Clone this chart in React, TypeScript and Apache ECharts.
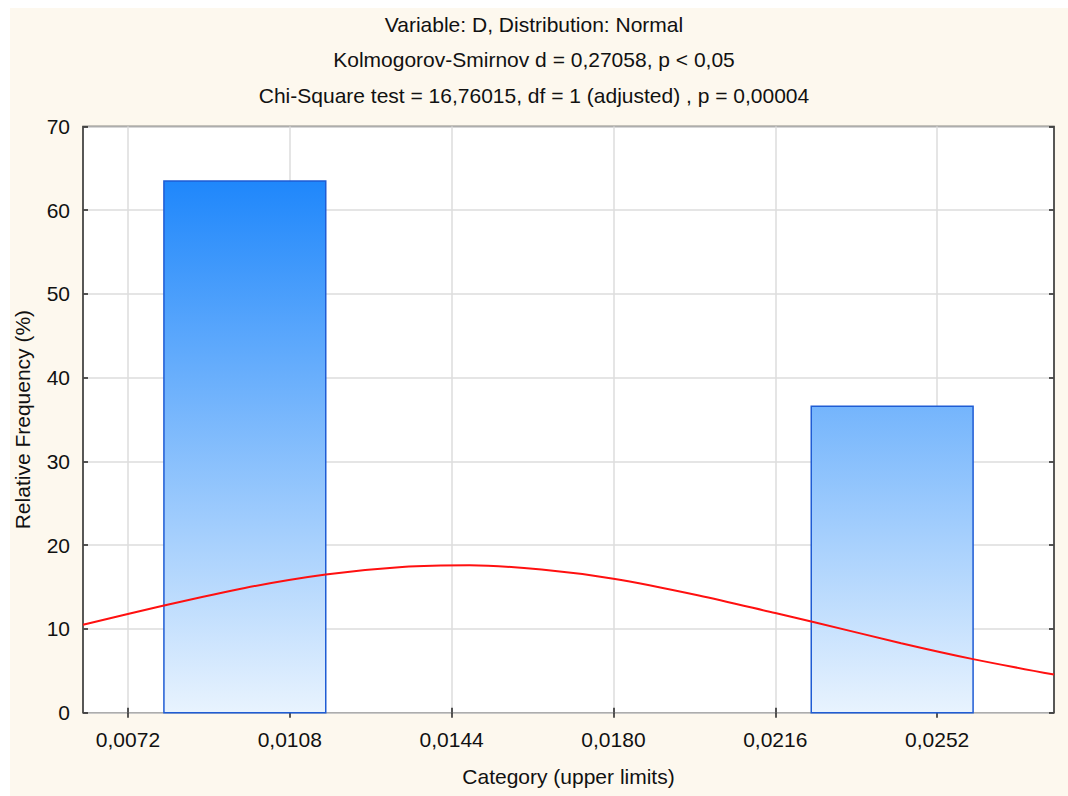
import React, { useEffect, useRef } from "react";
import * as echarts from "echarts";

// ---- data ----
const titleLines = [
  "Variable: D, Distribution: Normal",
  "Kolmogorov-Smirnov d = 0,27058, p < 0,05",
  "Chi-Square test = 16,76015, df = 1 (adjusted) , p = 0,00004",
];
const xAxisName = "Category (upper limits)";
const yAxisName = "Relative Frequency (%)";

const xTicks = [0.0072, 0.0108, 0.0144, 0.018, 0.0216, 0.0252];
const xTickLabels = ["0,0072", "0,0108", "0,0144", "0,0180", "0,0216", "0,0252"];
const xMin = 0.0062;
const xMax = 0.0278;

const binLower = [0.008, 0.0224];
const binUpper = [0.0116, 0.026];
const relFreq = [63.5, 36.6];

// expected normal curve
const curveX = [
  0.0062, 0.008, 0.0098, 0.0116, 0.0133, 0.0148, 0.0164, 0.018, 0.0199,
  0.0216, 0.0224, 0.0244, 0.026, 0.0278,
];
const curveY = [
  10.5, 12.8, 14.9, 16.5, 17.4, 17.6, 17.1, 16.0, 14.0, 11.9, 10.9, 8.3, 6.4,
  4.55,
];

const FONT = "'Liberation Sans', Arial, sans-serif";
const TEXT = "#111111";

export default function App() {
  const ref = useRef<HTMLDivElement>(null);

  useEffect(() => {
    document.body.style.margin = "0";
    document.body.style.overflow = "hidden";
    if (!ref.current) return;
    const chart = echarts.init(ref.current, null, { renderer: "svg" });

    const bins = binLower.map((lo, i) => [lo, binUpper[i], relFreq[i]]);
    const curve = curveX.map((x, i) => [x, curveY[i]]);
    const maxFreq = Math.max(...relFreq);

    const tickCommon = {
      show: true,
      inside: true,
      length: 5,
      lineStyle: { color: "#222", width: 1.5 },
    };

    chart.setOption({
      animation: false,
      backgroundColor: "#fdf8ee",
      textStyle: { fontFamily: FONT },
      grid: {
        left: 73,
        top: 118.5,
        right: 14,
        bottom: 83.3,
        containLabel: false,
        outerBoundsMode: "none",
        show: true,
        backgroundColor: "#ffffff",
        borderColor: "#222",
        borderWidth: 1.5,
      },
      graphic: titleLines.map((t, i) => ({
        type: "text",
        x: 524,
        y: 16 + i * 35.5,
        style: {
          text: t,
          fontSize: 21,
          fontFamily: FONT,
          fill: TEXT,
          align: "center",
          verticalAlign: "middle",
        },
      })),
      xAxis: [
        {
          type: "value",
          position: "bottom",
          min: xMin,
          max: xMax,
          name: xAxisName,
          nameLocation: "middle",
          nameGap: 53,
          nameTextStyle: { fontSize: 21, color: TEXT, fontFamily: FONT },
          axisLine: { show: false },
          axisTick: { ...tickCommon, customValues: xTicks },
          axisLabel: {
            customValues: xTicks,
            fontSize: 21,
            color: TEXT,
            margin: 16,
            fontFamily: FONT,
            formatter: (v: number) => {
              const idx = xTicks.findIndex((t) => Math.abs(t - v) < 1e-9);
              return idx >= 0 ? xTickLabels[idx] : "";
            },
          },
          splitLine: { show: true, lineStyle: { color: "#dcdcdc", width: 1.5 } },
        },
        {
          type: "value",
          position: "top",
          min: xMin,
          max: xMax,
          axisLine: { show: false },
          axisTick: { ...tickCommon, customValues: xTicks },
          axisLabel: { show: false },
          splitLine: { show: false },
        },
      ],
      yAxis: [
        {
          type: "value",
          position: "left",
          min: 0,
          max: 70,
          interval: 10,
          name: yAxisName,
          nameLocation: "middle",
          nameGap: 50,
          nameRotate: 90,
          nameTextStyle: { fontSize: 21, color: TEXT, fontFamily: FONT },
          axisLine: { show: false },
          axisTick: tickCommon,
          axisLabel: { fontSize: 21, color: TEXT, margin: 13, fontFamily: FONT },
          splitLine: { show: true, lineStyle: { color: "#dcdcdc", width: 1.5 } },
        },
        {
          type: "value",
          position: "right",
          min: 0,
          max: 70,
          interval: 10,
          axisLine: { show: false },
          axisTick: tickCommon,
          axisLabel: { show: false },
          splitLine: { show: false },
        },
      ],
      series: [
        {
          type: "custom",
          xAxisIndex: 0,
          yAxisIndex: 0,
          encode: { x: [0, 1], y: 2 },
          data: bins,
          renderItem: (params: any, api: any) => {
            const x0 = api.value(0);
            const x1 = api.value(1);
            const h = api.value(2);
            const p0 = api.coord([x0, h]);
            const p1 = api.coord([x1, 0]);
            const gTop = api.coord([x0, maxFreq])[1];
            const gBottom = api.coord([x0, 0])[1];
            return {
              type: "rect",
              shape: { x: p0[0], y: p0[1], width: p1[0] - p0[0], height: p1[1] - p0[1] },
              style: {
                fill: new echarts.graphic.LinearGradient(
                  0,
                  gTop,
                  0,
                  gBottom,
                  [
                    { offset: 0, color: "#1f87fb" },
                    { offset: 1, color: "#e8f3fe" },
                  ],
                  true
                ),
                stroke: "#1f5cd4",
                lineWidth: 1.5,
              },
            };
          },
          z: 2,
        },
        {
          type: "line",
          xAxisIndex: 0,
          yAxisIndex: 0,
          data: curve,
          smooth: 0.3,
          showSymbol: false,
          symbol: "none",
          lineStyle: { color: "#ff1010", width: 2 },
          z: 3,
        },
      ],
    });

    return () => chart.dispose();
  }, []);

  return (
    <div style={{ width: 1068, height: 796, background: "#ffffff", position: "relative" }}>
      <div
        ref={ref}
        style={{ position: "absolute", left: 10, top: 8, width: 1058, height: 788 }}
      />
    </div>
  );
}
